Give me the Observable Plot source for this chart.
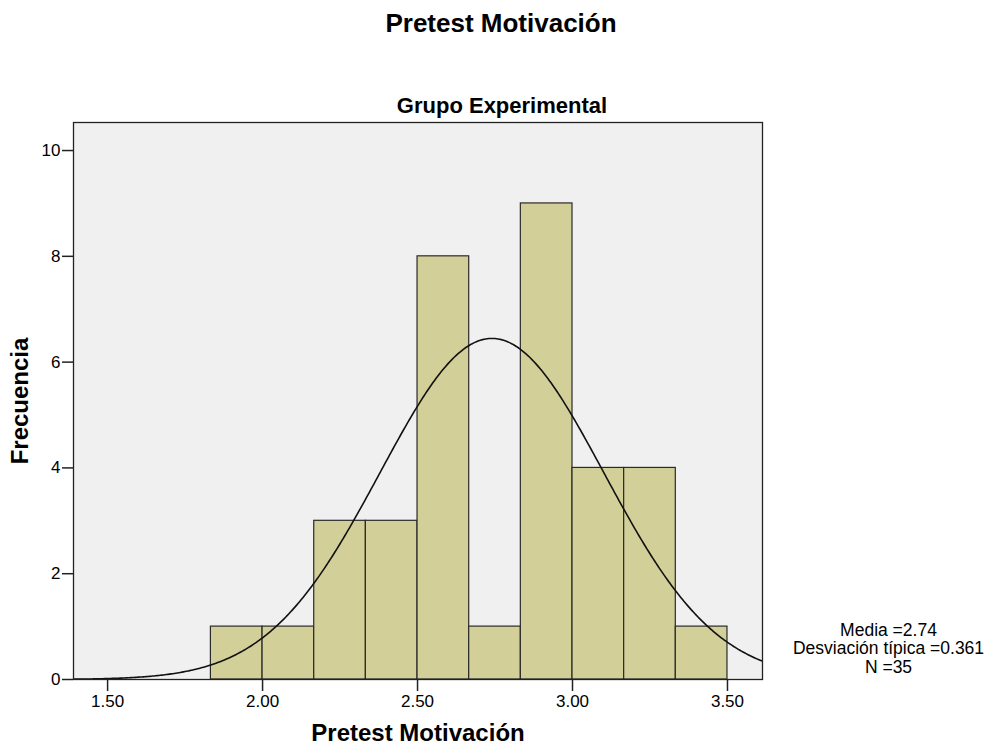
<!DOCTYPE html>
<html>
<head>
<meta charset="utf-8">
<script src="https://cdn.jsdelivr.net/npm/d3@7"></script>
<script src="https://cdn.jsdelivr.net/npm/@observablehq/plot@0.6"></script>
<style>
  html, body { margin: 0; padding: 0; background: #ffffff; }
  #chart { width: 992px; height: 748px; }
</style>
</head>
<body>
<div id="chart"></div>
<script>
// ---- data ----
const binStarts = [1.8333, 2.0, 2.1667, 2.3333, 2.5, 2.6667, 2.8333, 3.0, 3.1667, 3.3333];
const binEnds   = [2.0, 2.1667, 2.3333, 2.5, 2.6667, 2.8333, 3.0, 3.1667, 3.3333, 3.5];
const counts    = [1, 1, 3, 3, 8, 1, 9, 4, 4, 1];
const mean = 2.74;
const sd = 0.361;
const nObs = 35;
const xTicks = [1.5, 2.0, 2.5, 3.0, 3.5];
const yTicks = [0, 2, 4, 6, 8, 10];
const title = "Pretest Motivación";
const subtitle = "Grupo Experimental";
const xLabel = "Pretest Motivación";
const yLabel = "Frecuencia";
const legendLines = ["Media =2.74", "Desviación típica =0.361", "N =35"];

const bars = counts.map((c, i) => ({x1: binStarts[i], x2: binEnds[i], y: c}));
const binWidth = binEnds[0] - binStarts[0];
const xDomain = [1.390, 3.613];
// normal curve defined by the stated mean, sd and N
const curve = d3.range(xDomain[0], xDomain[1] + 0.005, 0.005).map(x => ({
  x,
  y: nObs * binWidth * Math.exp(-0.5 * ((x - mean) / sd) ** 2) / (sd * Math.sqrt(2 * Math.PI))
}));

const font = "'Liberation Sans', Arial, sans-serif";

const chart = Plot.plot({
  width: 992,
  height: 748,
  marginLeft: 73,
  marginRight: 230,
  marginTop: 122,
  marginBottom: 69,
  style: {fontFamily: font, fontSize: "17px", background: "#ffffff", color: "#000"},
  x: {domain: xDomain},
  y: {domain: [0, 10.53]},
  marks: [
    Plot.frame({fill: "#f0f0f0", stroke: null}),
    Plot.rectY(bars, {x1: "x1", x2: "x2", y: "y", fill: "#d3cf98", stroke: "#2a2a2a", strokeWidth: 1.2, inset: 0}),
    Plot.line(curve, {x: "x", y: "y", stroke: "#111", strokeWidth: 1.6, clip: true}),
    Plot.frame({stroke: "#222", strokeWidth: 1.3}),
    Plot.axisX({ticks: xTicks, tickFormat: d3.format(".2f"), tickSize: 12, tickPadding: 3, label: null, fontSize: 17, stroke: "#222", strokeWidth: 1.5}),
    Plot.axisY({ticks: yTicks, tickSize: 11, tickPadding: 2, label: null, fontSize: 17, stroke: "#222", strokeWidth: 1.5}),
    Plot.text([title], {text: d => d, frameAnchor: "top", dx: 83, dy: -99, fontSize: 26, fontWeight: "bold", lineAnchor: "middle"}),
    Plot.text([subtitle], {text: d => d, frameAnchor: "top", dx: 84, dy: -17, fontSize: 22, fontWeight: "bold", lineAnchor: "middle"}),
    Plot.text([xLabel], {text: d => d, frameAnchor: "bottom", dy: 54, fontSize: 24, fontWeight: "bold", lineAnchor: "middle"}),
    Plot.text([yLabel], {text: d => d, frameAnchor: "left", dx: -53, rotate: -90, fontSize: 24, fontWeight: "bold", textAnchor: "middle", lineAnchor: "middle"}),
    Plot.text([legendLines.join("\n")], {text: d => d, frameAnchor: "bottom-right", dx: 126, dy: -31, fontSize: 17.5, lineHeight: 1.06, textAnchor: "middle", lineAnchor: "middle"})
  ]
});
document.getElementById("chart").appendChild(chart);
</script>
</body>
</html>
